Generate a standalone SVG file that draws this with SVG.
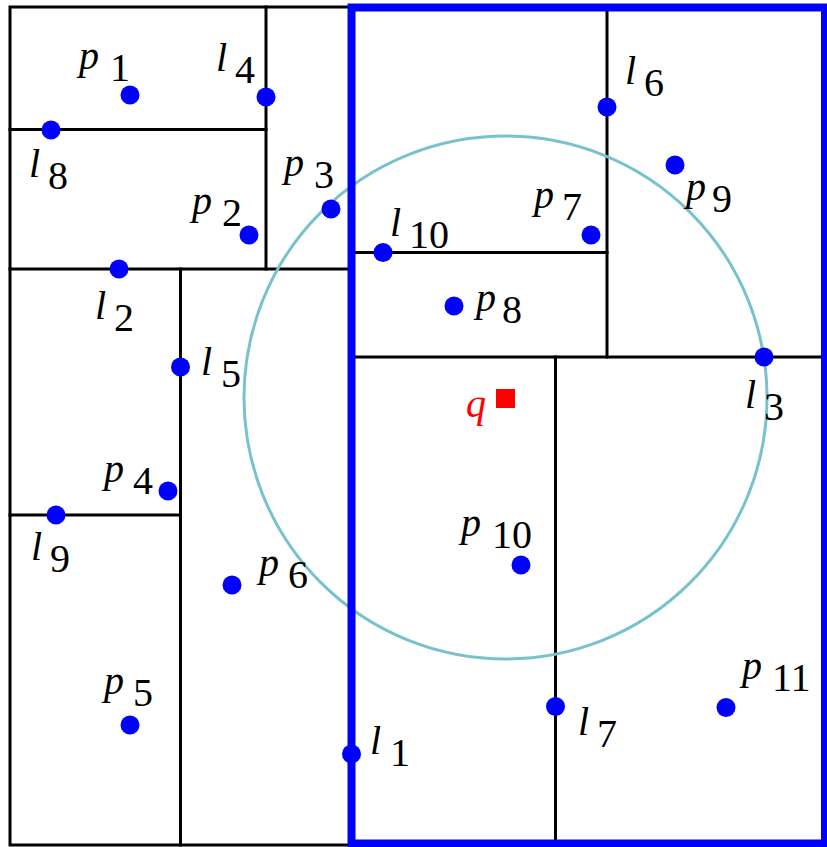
<svg xmlns="http://www.w3.org/2000/svg" width="827" height="847" viewBox="0 0 827 847">
<style>
.ln{stroke:#000;stroke-width:3;fill:none;stroke-linecap:square}
.dot{fill:#0000ff}
.v{font-style:italic}
</style>
<rect width="827" height="847" fill="#fff"/>
<g id="lines">
<rect class="ln" x="10" y="7" width="815" height="838"/>
<line class="ln" x1="266" y1="7" x2="266" y2="269"/>
<line class="ln" x1="10" y1="129.5" x2="266" y2="129.5"/>
<line class="ln" x1="10" y1="269" x2="351" y2="269"/>
<line class="ln" x1="180.5" y1="269" x2="180.5" y2="845"/>
<line class="ln" x1="10" y1="515" x2="180.5" y2="515"/>
<line class="ln" x1="607" y1="7" x2="607" y2="357"/>
<line class="ln" x1="351" y1="252.5" x2="607" y2="252.5"/>
<line class="ln" x1="351" y1="357" x2="825" y2="357"/>
<line class="ln" x1="555.5" y1="357" x2="555.5" y2="845"/>
<circle id="range" cx="505.5" cy="397.5" r="261.5" fill="none" stroke="#78c3cb" stroke-width="3"/>
<rect id="region" x="351.5" y="7.5" width="473.5" height="836" fill="none" stroke="#0000ff" stroke-width="8"/>
</g>
<g font-family="Liberation Serif, serif" font-size="40" fill="#000">
<g id="q"><rect x="496" y="389" width="19" height="19" fill="#ff0000"/><text class="v" x="466" y="417" fill="#ff0000">q</text></g>
<g id="p1"><circle class="dot" cx="130" cy="95" r="9.5"/><text x="79" y="69"><tspan class="v">p</tspan><tspan x="110" y="81">1</tspan></text></g>
<g id="l4"><circle class="dot" cx="266" cy="97" r="9.5"/><text x="216" y="71"><tspan class="v">l</tspan><tspan x="235" y="83">4</tspan></text></g>
<g id="l8"><circle class="dot" cx="51" cy="130" r="9.5"/><text x="29" y="177"><tspan class="v">l</tspan><tspan x="48" y="189">8</tspan></text></g>
<g id="p2"><circle class="dot" cx="249" cy="235" r="9.5"/><text x="192" y="214"><tspan class="v">p</tspan><tspan x="222" y="226">2</tspan></text></g>
<g id="p3"><circle class="dot" cx="331" cy="209" r="9.5"/><text x="284" y="176"><tspan class="v">p</tspan><tspan x="314" y="188">3</tspan></text></g>
<g id="l10"><circle class="dot" cx="383" cy="252.5" r="9.5"/><text x="390" y="236"><tspan class="v">l</tspan><tspan x="409" y="248">10</tspan></text></g>
<g id="l2"><circle class="dot" cx="119" cy="269" r="9.5"/><text x="95" y="319"><tspan class="v">l</tspan><tspan x="114" y="331">2</tspan></text></g>
<g id="l6"><circle class="dot" cx="607" cy="107" r="9.5"/><text x="625" y="84"><tspan class="v">l</tspan><tspan x="644" y="96">6</tspan></text></g>
<g id="p9"><circle class="dot" cx="675" cy="165" r="9.5"/><text x="686" y="200"><tspan class="v">p</tspan><tspan x="712" y="212">9</tspan></text></g>
<g id="p7"><circle class="dot" cx="591" cy="235" r="9.5"/><text x="534" y="208"><tspan class="v">p</tspan><tspan x="562" y="220">7</tspan></text></g>
<g id="p8"><circle class="dot" cx="454" cy="306" r="9.5"/><text x="476" y="311"><tspan class="v">p</tspan><tspan x="502" y="323">8</tspan></text></g>
<g id="l3"><circle class="dot" cx="764" cy="357" r="9.5"/><text x="745" y="408"><tspan class="v">l</tspan><tspan x="764" y="420">3</tspan></text></g>
<g id="l5"><circle class="dot" cx="180.5" cy="367" r="9.5"/><text x="201" y="375"><tspan class="v">l</tspan><tspan x="221" y="387">5</tspan></text></g>
<g id="p4"><circle class="dot" cx="168" cy="491" r="9.5"/><text x="104" y="482"><tspan class="v">p</tspan><tspan x="133" y="494">4</tspan></text></g>
<g id="l9"><circle class="dot" cx="56" cy="515" r="9.5"/><text x="31" y="560"><tspan class="v">l</tspan><tspan x="50" y="572">9</tspan></text></g>
<g id="p10"><circle class="dot" cx="521" cy="565" r="9.5"/><text x="461" y="536"><tspan class="v">p</tspan><tspan x="492" y="548">10</tspan></text></g>
<g id="p6"><circle class="dot" cx="232" cy="585" r="9.5"/><text x="259" y="576"><tspan class="v">p</tspan><tspan x="288" y="588">6</tspan></text></g>
<g id="p11"><circle class="dot" cx="726" cy="707.5" r="9.5"/><text x="742" y="679"><tspan class="v">p</tspan><tspan x="772" y="691">11</tspan></text></g>
<g id="l7"><circle class="dot" cx="555.5" cy="706.5" r="9.5"/><text x="578" y="735"><tspan class="v">l</tspan><tspan x="597" y="747">7</tspan></text></g>
<g id="p5"><circle class="dot" cx="130" cy="725" r="9.5"/><text x="104" y="694"><tspan class="v">p</tspan><tspan x="133" y="706">5</tspan></text></g>
<g id="l1"><circle class="dot" cx="351.5" cy="754" r="9.5"/><text x="370" y="754"><tspan class="v">l</tspan><tspan x="390" y="766">1</tspan></text></g>
</g>
</svg>
